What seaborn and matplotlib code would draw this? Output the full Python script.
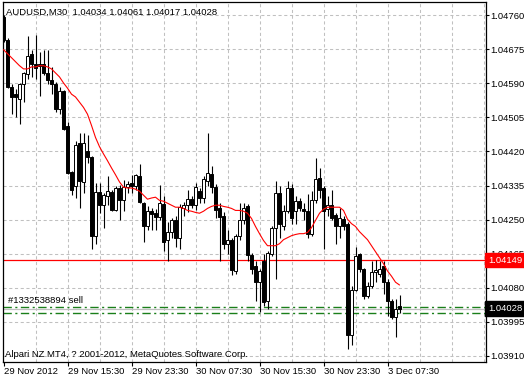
import numpy as np
import pandas as pd
import matplotlib
matplotlib.use("Agg")
import matplotlib.pyplot as plt
import seaborn as sns
from matplotlib.transforms import blended_transform_factory

# ---------------- data ----------------
bar_open = [1.04755, 1.04699, 1.04581, 1.04563, 1.04551, 1.04589, 1.04614, 1.04662, 1.04639, 1.04639,
            1.04639, 1.04616, 1.04599, 1.04589, 1.04525, 1.04571, 1.04483, 1.04369, 1.04334, 1.04440,
            1.04344, 1.04420, 1.04407, 1.04210, 1.04319, 1.04286, 1.04309, 1.04319, 1.04273, 1.04329,
            1.04298, 1.04331, 1.04341, 1.04334, 1.04359, 1.04291, 1.04235, 1.04271, 1.04266, 1.04256,
            1.04288, 1.04198, 1.04220, 1.04248, 1.04205, 1.04278, 1.04286, 1.04301, 1.04286, 1.04321,
            1.04304, 1.04346, 1.04364, 1.04331, 1.04278, 1.04258, 1.04188, 1.04198, 1.04122, 1.04208,
            1.04248, 1.04283, 1.04162, 1.04135, 1.04094, 1.04147, 1.04046, 1.04165, 1.04228, 1.04316,
            1.04235, 1.04271, 1.04329, 1.04271, 1.04296, 1.04276, 1.04271, 1.04215, 1.04298, 1.04354,
            1.04329, 1.04276, 1.04286, 1.04261, 1.04235, 1.04251, 1.04240, 1.03963, 1.04074, 1.04165,
            1.04127, 1.04059, 1.04084, 1.04119, 1.04114, 1.04135, 1.04094, 1.04046, 1.04006, 1.04034]
bar_high = [1.04760, 1.04702, 1.04589, 1.04576, 1.04591, 1.04619, 1.04707, 1.04672, 1.04710, 1.04669,
            1.04674, 1.04674, 1.04631, 1.04593, 1.04581, 1.04573, 1.04493, 1.04372, 1.04447, 1.04467,
            1.04467, 1.04460, 1.04409, 1.04341, 1.04341, 1.04316, 1.04359, 1.04324, 1.04334, 1.04336,
            1.04349, 1.04346, 1.04362, 1.04364, 1.04389, 1.04293, 1.04283, 1.04278, 1.04276, 1.04336,
            1.04309, 1.04245, 1.04253, 1.04258, 1.04288, 1.04293, 1.04324, 1.04309, 1.04341, 1.04329,
            1.04359, 1.04467, 1.04384, 1.04339, 1.04291, 1.04268, 1.04223, 1.04203, 1.04215, 1.04291,
            1.04291, 1.04288, 1.04167, 1.04147, 1.04127, 1.04165, 1.04172, 1.04233, 1.04346, 1.04334,
            1.04286, 1.04346, 1.04339, 1.04309, 1.04304, 1.04291, 1.04314, 1.04321, 1.04404, 1.04379,
            1.04334, 1.04309, 1.04324, 1.04266, 1.04278, 1.04258, 1.04245, 1.04084, 1.04182, 1.04167,
            1.04130, 1.04094, 1.04146, 1.04150, 1.04147, 1.04146, 1.04102, 1.04051, 1.04051, 1.04061]
bar_low = [1.04694, 1.04578, 1.04513, 1.04505, 1.04488, 1.04543, 1.04601, 1.04606, 1.04601, 1.04558,
           1.04611, 1.04589, 1.04563, 1.04518, 1.04513, 1.04473, 1.04364, 1.04311, 1.04304, 1.04278,
           1.04316, 1.04392, 1.04177, 1.04188, 1.04266, 1.04228, 1.04286, 1.04271, 1.04271, 1.04248,
           1.04271, 1.04316, 1.04316, 1.04324, 1.04291, 1.04195, 1.04223, 1.04223, 1.04223, 1.04248,
           1.04172, 1.04146, 1.04203, 1.04182, 1.04177, 1.04258, 1.04268, 1.04278, 1.04273, 1.04291,
           1.04291, 1.04334, 1.04316, 1.04253, 1.04147, 1.04177, 1.04165, 1.04112, 1.04114, 1.04198,
           1.04240, 1.04147, 1.04114, 1.04046, 1.04019, 1.04034, 1.04026, 1.04160, 1.04102, 1.04203,
           1.04223, 1.04266, 1.04240, 1.04240, 1.04271, 1.04248, 1.04203, 1.04208, 1.04291, 1.04304,
           1.04177, 1.04258, 1.04248, 1.04190, 1.04203, 1.04225, 1.03928, 1.03938, 1.04072, 1.04120,
           1.04051, 1.04054, 1.04079, 1.04094, 1.04107, 1.04064, 1.04009, 1.04001, 1.03958, 1.04017]
bar_close = [1.04699, 1.04581, 1.04556, 1.04556, 1.04589, 1.04616, 1.04659, 1.04639, 1.04629, 1.04634,
             1.04616, 1.04599, 1.04589, 1.04525, 1.04571, 1.04475, 1.04367, 1.04324, 1.04437, 1.04346,
             1.04442, 1.04407, 1.04210, 1.04319, 1.04286, 1.04311, 1.04321, 1.04273, 1.04329, 1.04298,
             1.04331, 1.04339, 1.04334, 1.04362, 1.04293, 1.04235, 1.04271, 1.04263, 1.04256, 1.04291,
             1.04195, 1.04220, 1.04248, 1.04205, 1.04281, 1.04286, 1.04301, 1.04286, 1.04331, 1.04304,
             1.04351, 1.04367, 1.04331, 1.04273, 1.04256, 1.04188, 1.04198, 1.04125, 1.04208, 1.04248,
             1.04278, 1.04162, 1.04127, 1.04094, 1.04122, 1.04044, 1.04167, 1.04228, 1.04316, 1.04240,
             1.04271, 1.04329, 1.04253, 1.04296, 1.04278, 1.04271, 1.04215, 1.04298, 1.04351, 1.04324,
             1.04271, 1.04286, 1.04253, 1.04233, 1.04253, 1.04235, 1.03963, 1.04074, 1.04160, 1.04127,
             1.04059, 1.04084, 1.04119, 1.04125, 1.04127, 1.04094, 1.04046, 1.04006, 1.04026, 1.04028]
ma_values = [1.04674, 1.04664, 1.04654, 1.04644, 1.04634, 1.04626, 1.04626, 1.04631, 1.04631, 1.04634,
             1.04634, 1.04631, 1.04626, 1.04616, 1.04606, 1.04591, 1.04578, 1.04563, 1.04556, 1.04543,
             1.04530, 1.04513, 1.04485, 1.04455, 1.04432, 1.04414, 1.04397, 1.04379, 1.04362, 1.04344,
             1.04331, 1.04329, 1.04329, 1.04326, 1.04321, 1.04311, 1.04301, 1.04304, 1.04306, 1.04298,
             1.04296, 1.04291, 1.04286, 1.04281, 1.04281, 1.04278, 1.04273, 1.04271, 1.04268, 1.04266,
             1.04271, 1.04278, 1.04283, 1.04286, 1.04286, 1.04283, 1.04281, 1.04278, 1.04273, 1.04273,
             1.04271, 1.04266, 1.04253, 1.04233, 1.04215, 1.04198, 1.04185, 1.04185, 1.04185, 1.04190,
             1.04200, 1.04205, 1.04210, 1.04213, 1.04215, 1.04215, 1.04218, 1.04230, 1.04248, 1.04266,
             1.04276, 1.04281, 1.04281, 1.04281, 1.04281, 1.04273, 1.04251, 1.04240, 1.04233, 1.04220,
             1.04210, 1.04200, 1.04185, 1.04170, 1.04155, 1.04140, 1.04122, 1.04109, 1.04094, 1.04087]

time_tick_bars = [0, 16, 32, 48, 64, 80, 96]
time_tick_labels = ["29 Nov 2012", "29 Nov 15:30", "29 Nov 23:30", "30 Nov 07:30",
                    "30 Nov 15:30", "30 Nov 23:30", "3 Dec 07:30"]
price_ticks = [1.03910, 1.03995, 1.04080, 1.04165, 1.04250, 1.04335, 1.04420,
               1.04505, 1.04590, 1.04675, 1.04760]
level_price = 1.04149      # red horizontal line
bid_price = 1.04028        # current bid
order_open = 1.04032       # green order lines
order_second = 1.04017
order_label = "#1332538894 sell"
header_text = "AUDUSD,M30  1.04034 1.04061 1.04017 1.04028"
footer_text = "Alpari NZ MT4, ? 2001-2012, MetaQuotes Software Corp."

df = pd.DataFrame({"bar": np.arange(len(bar_open)), "open": bar_open, "high": bar_high,
                   "low": bar_low, "close": bar_close, "ma": ma_values})

# ---------------- figure ----------------
sns.set_theme(style="white")
plt.rcParams['font.family'] = ['Liberation Sans', 'DejaVu Sans']
FS = 6.8
W, H = 524, 378
fig = plt.figure(figsize=(W / 100, H / 100), dpi=100)
fig.patch.set_facecolor("white")
ax = fig.add_axes([2.5 / W, 16 / H, 483.5 / W, 360 / H])
ax.set_facecolor("white")
ax.set_xlim(-0.25, 120.625)
ax.set_ylim(1.038949, 1.047929)

# grid
grid_kw = dict(color="#c0c0c0", lw=0.75, linestyle=(0, (3, 2.5)), zorder=0)
for p in price_ticks:
    ax.axhline(p, **grid_kw)
for b in range(8, 121, 8):
    ax.axvline(b, **grid_kw)

# horizontal levels
ax.axhline(level_price, color="#ff0000", lw=0.9, zorder=1)
ax.axhline(order_open, color="#1a7f1a", lw=1.0, linestyle=(0, (6, 2.5, 1.5, 2.5)), zorder=1)
ax.axhline(order_second, color="#1a7f1a", lw=1.0, linestyle=(0, (6, 2.5, 1.5, 2.5)), zorder=1)
ax.axhline(bid_price, color="#c0c0c0", lw=0.9, zorder=1)

# candles
ax.vlines(df["bar"], df["low"], df["high"], color="black", lw=0.8, zorder=3)
up = df["close"] >= df["open"]
body_bottom = np.minimum(df["open"], df["close"])
body_h = np.maximum((df["close"] - df["open"]).abs(), 0.000012)
ax.bar(df["bar"], body_h, bottom=body_bottom, width=0.55,
       color=np.where(up, "white", "black"), edgecolor="black", linewidth=0.7, zorder=4)

# moving average
sns.lineplot(data=df, x="bar", y="ma", ax=ax, color="#ff0000", lw=0.8, zorder=5, legend=False)
ax.set_xlabel("")
ax.set_ylabel("")

# axes
for s in ax.spines.values():
    s.set_visible(True)
    s.set_color("black")
    s.set_linewidth(0.9)
ax.yaxis.tick_right()
ax.set_yticks(price_ticks)
ax.set_yticklabels([f"{p:.5f}" for p in price_ticks])
ax.set_xticks(time_tick_bars)
ax.set_xticklabels(time_tick_labels, ha="left")
ax.tick_params(axis="y", which="both", right=True, left=False, length=2.5, width=0.8,
               pad=0.8, labelsize=FS, colors="black", direction="out")
ax.tick_params(axis="x", which="both", bottom=True, length=3, width=0.8,
               pad=0.5, labelsize=FS, colors="black", direction="out")

# price boxes on the axis
trans = blended_transform_factory(ax.transAxes, ax.transData)
ax.text(1.004, level_price, f"{level_price:.5f}", transform=trans, color="white", fontsize=FS,
        va="center", ha="left", zorder=10, clip_on=False,
        bbox=dict(boxstyle="square,pad=0.3", fc="#ff0000", ec="#ff0000"))
ax.text(1.004, bid_price, f"{bid_price:.5f}", transform=trans, color="white", fontsize=FS,
        va="center", ha="left", zorder=10, clip_on=False,
        bbox=dict(boxstyle="square,pad=0.3", fc="black", ec="black"))

# order label
ax.text(1.0, order_open + 0.00004, order_label, fontsize=FS, color="black", va="bottom",
        ha="left", zorder=6)

# header & footer
fig.text(6 / W, 1 - 15 / H, header_text, fontsize=FS, color="black", va="baseline", ha="left")
fig.text(5 / W, 1 - 357 / H, footer_text, fontsize=FS, color="black", va="baseline", ha="left")

fig.savefig("out.png", dpi=100, facecolor="white")
